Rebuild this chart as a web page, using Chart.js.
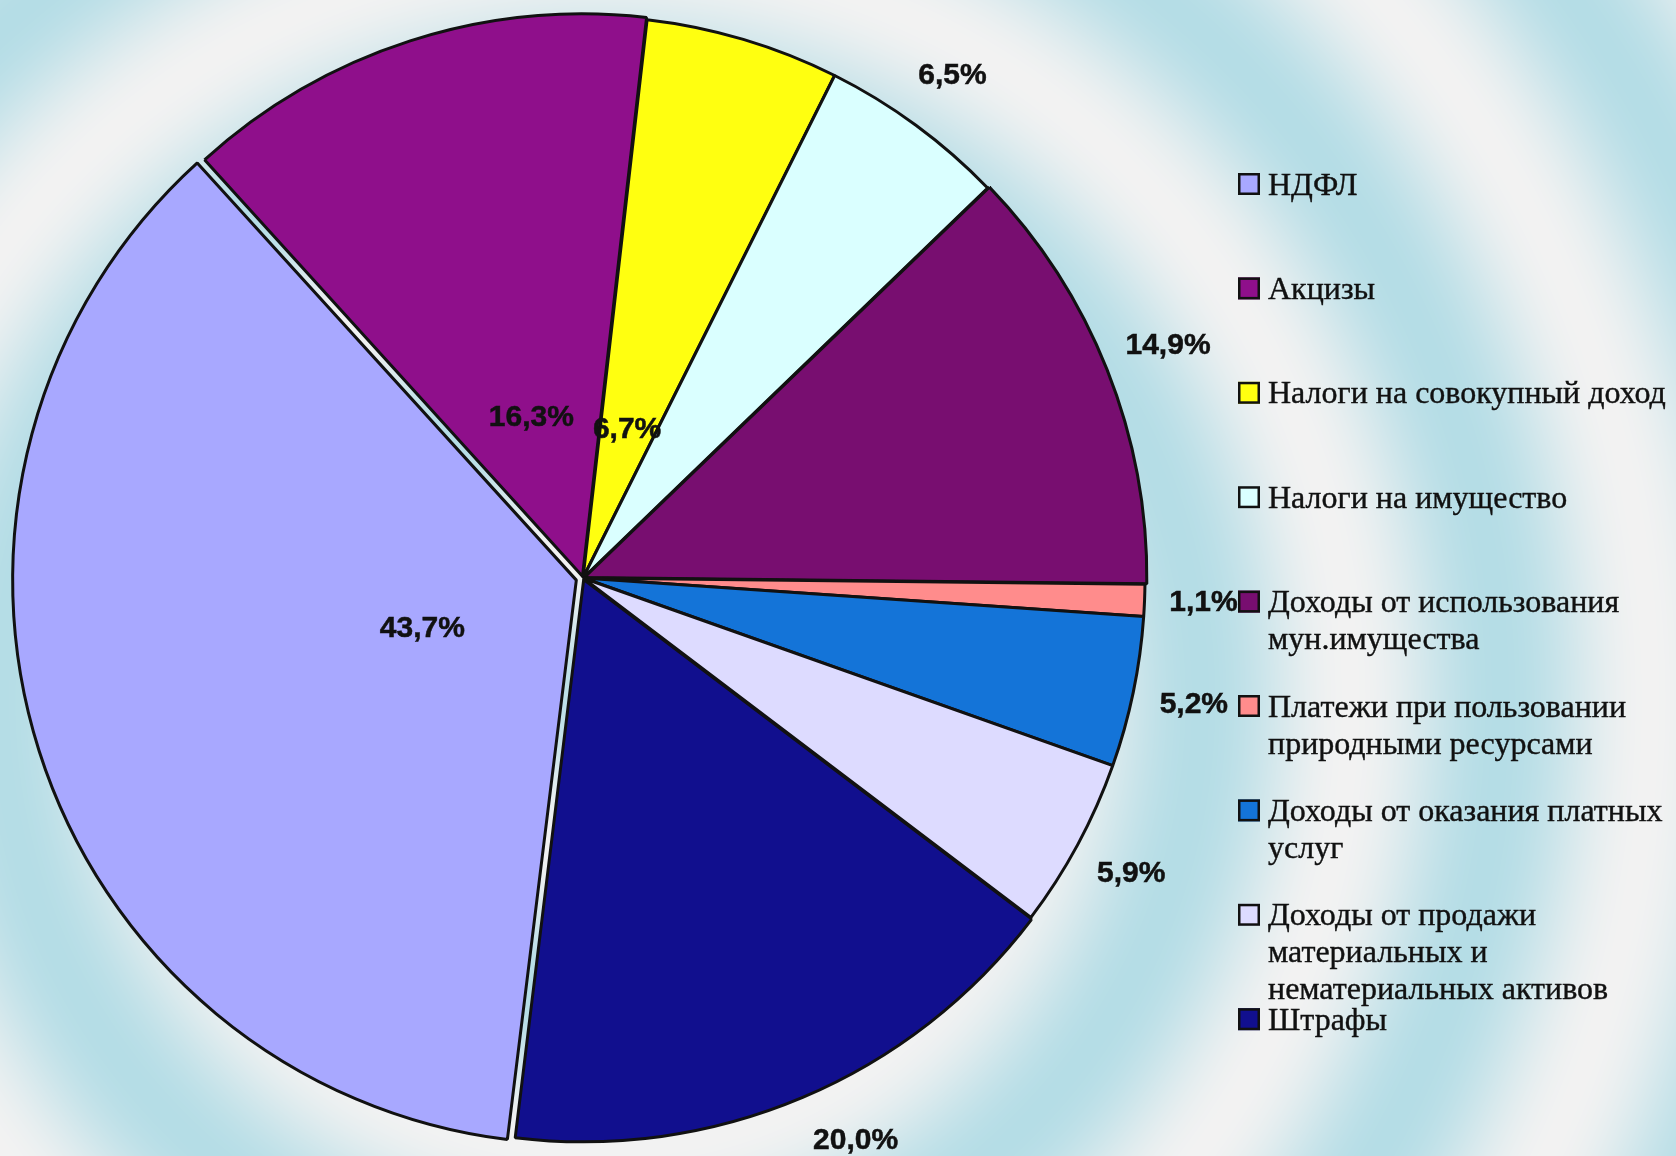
<!DOCTYPE html>
<html lang="ru">
<head>
<meta charset="utf-8">
<title>Структура доходов</title>
<script src="https://cdn.jsdelivr.net/npm/chart.js@4/dist/chart.umd.min.js"></script>
<style>
  html, body { margin: 0; padding: 0; background: #f2f2f2; }
  #chartDohody { display: block; }
</style>
</head>
<body>
<canvas id="chartDohody" width="1676" height="1156"></canvas>
<script>
// данные
const categorias = [
    "НДФЛ",
    "Акцизы",
    "Налоги на совокупный доход",
    "Налоги на имущество",
    "Доходы от использования мун.имущества",
    "Платежи при пользовании природными ресурсами",
    "Доходы от оказания платных услуг",
    "Доходы от продажи материальных и нематериальных активов",
    "Штрафы"
];
const valores = [43.7, 16.3, 6.7, 6.5, 14.9, 1.1, 5.2, 5.9, 20.0];

// estilos
const coloresSectores = ["#a8a8ff", "#8f0f8b", "#ffff10", "#daffff", "#780e70", "#ff8c8c", "#1474d8", "#dddbff", "#110f8e"];
const desplazamientos = [28, 7, 0, 0, 6, 0, 0, 0, 7]; // chart.js divide offset entre 4
const radioEtiqueta = [0.3, 0.3, 0.275, 1.11, 1.12, 1.105, 1.11, 1.108, 1.113];

const textos = valores.map(v => v.toFixed(1).replace(".", ",") + "%");

function pintarFondo(w, h) {
    const off = document.createElement("canvas");
    off.width = w;
    off.height = h;
    const octx = off.getContext("2d");
    const img = octx.createImageData(w, h);
    const azul = [181, 221, 230];
    const gris = [242, 242, 242];
    for (let y = 0; y < h; y++) {
        for (let x = 0; x < w; x++) {
            const r = Math.hypot(x - 600, y - 700);
            const t = 0.5 + 0.5 * Math.cos(2 * Math.PI * (r - 600) / 300);
            const i = (y * w + x) * 4;
            img.data[i] = gris[0] + (azul[0] - gris[0]) * t;
            img.data[i + 1] = gris[1] + (azul[1] - gris[1]) * t;
            img.data[i + 2] = gris[2] + (azul[2] - gris[2]) * t;
            img.data[i + 3] = 255;
        }
    }
    octx.putImageData(img, 0, 0);
    return off;
}

const fondoPlugin = {
    id: "fondo",
    beforeDraw(chart) {
        if (!chart.$fondo) {
            chart.$fondo = pintarFondo(chart.width, chart.height);
        }
        chart.ctx.drawImage(chart.$fondo, 0, 0);
    }
};

const etiquetasPlugin = {
    id: "etiquetas",
    afterDatasetsDraw(chart) {
        const ctx = chart.ctx;
        const arcs = chart.getDatasetMeta(0).data;
        ctx.save();
        ctx.font = 'bold 30px "Liberation Sans", Arial, sans-serif';
        ctx.fillStyle = "#111";
        ctx.strokeStyle = "#111";
        ctx.lineWidth = 0.5;
        ctx.textAlign = "center";
        ctx.textBaseline = "middle";
        arcs.forEach((arc, i) => {
            const p = arc.getProps(["x", "y", "startAngle", "endAngle", "outerRadius"], true);
            const medio = (p.startAngle + p.endAngle) / 2;
            const r = p.outerRadius * radioEtiqueta[i];
            let x = p.x + Math.cos(medio) * r;
            let y = p.y + Math.sin(medio) * r;
            const yMax = chart.height - 15;
            if (y > yMax) {
                // que no se salga por abajo
                y = yMax;
                const dx = Math.sqrt(Math.max(r * r - (y - p.y) * (y - p.y), 0));
                x = p.x + Math.sign(Math.cos(medio)) * dx;
            }
            ctx.fillText(textos[i], x, y);
            ctx.strokeText(textos[i], x, y);
        });
        ctx.restore();
    }
};

function partirTexto(ctx, texto, anchoMax) {
    const palabras = texto.split(" ");
    const lineas = [];
    let actual = "";
    palabras.forEach(p => {
        const prueba = actual ? actual + " " + p : p;
        if (actual && ctx.measureText(prueba).width > anchoMax) {
            lineas.push(actual);
            actual = p;
        } else {
            actual = prueba;
        }
    });
    if (actual) lineas.push(actual);
    return lineas;
}

const leyendaPlugin = {
    id: "leyenda",
    afterDraw(chart) {
        const ctx = chart.ctx;
        const colores = chart.data.datasets[0].backgroundColor;
        const x0 = 1238, xTexto = 1268, y0 = 184, paso = 104.4, interlineado = 37, lado = 22;
        ctx.save();
        ctx.font = '32px "Liberation Serif", "Times New Roman", serif';
        ctx.textBaseline = "alphabetic";
        chart.data.labels.forEach((label, i) => {
            const yFila = y0 + i * paso;
            ctx.fillStyle = colores[i];
            ctx.fillRect(x0, yFila - lado / 2, lado, lado);
            ctx.lineWidth = 2.5;
            ctx.strokeStyle = "#111";
            ctx.strokeRect(x0 + 1.25, yFila - lado / 2 + 1.25, lado - 2.5, lado - 2.5);
            ctx.fillStyle = "#111";
            ctx.strokeStyle = "#111";
            ctx.lineWidth = 0.4;
            partirTexto(ctx, label, 420).forEach((linea, k) => {
                ctx.fillText(linea, xTexto, yFila + 10.5 + k * interlineado);
                ctx.strokeText(linea, xTexto, yFila + 10.5 + k * interlineado);
            });
        });
        ctx.restore();
    }
};

document.addEventListener("DOMContentLoaded", () => {
    const ctx = document.getElementById("chartDohody");

    new Chart(ctx, {
        type: "pie",
        data: {
            labels: categorias,
            datasets: [{
                data: valores,
                backgroundColor: coloresSectores,
                borderColor: "#111",
                borderWidth: 3,
                offset: desplazamientos
            }]
        },
        options: {
            responsive: false,
            animation: false,
            devicePixelRatio: 1,
            rotation: 187,
            radius: 562,
            layout: {
                padding: { left: 0, top: 0, right: 510, bottom: 0 }
            },
            plugins: {
                legend: { display: false },
                tooltip: { enabled: false }
            }
        },
        plugins: [fondoPlugin, etiquetasPlugin, leyendaPlugin]
    });
});
</script>
</body>
</html>
